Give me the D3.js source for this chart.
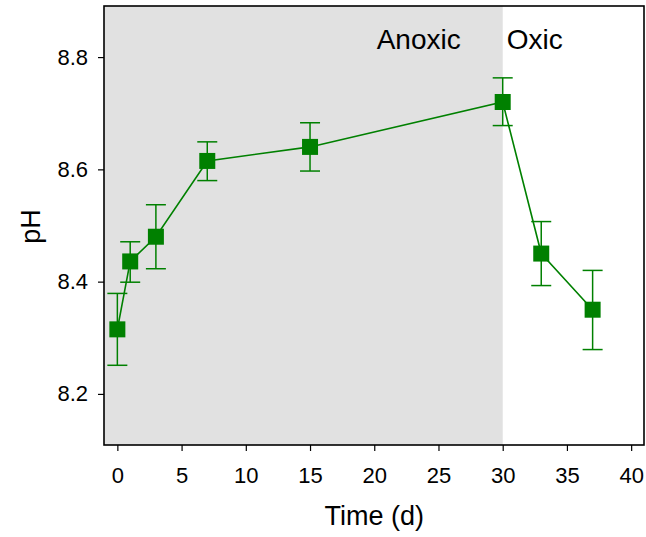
<!DOCTYPE html>
<html>
<head>
<meta charset="utf-8">
<script src="https://cdn.jsdelivr.net/npm/d3@7"></script>
<style>
  body { margin: 0; background: #fff; }
  svg { display: block; font-family: 'Liberation Sans', Arial, sans-serif; }
</style>
</head>
<body>
<div id="chart"></div>
<script>
// Data
const days = [0, 1, 3, 7, 15, 30, 33, 37];
const phMean = [8.315, 8.436, 8.48, 8.615, 8.64, 8.72, 8.45, 8.35];
const phLow = [8.251, 8.399, 8.423, 8.58, 8.597, 8.678, 8.393, 8.279];
const phHigh = [8.379, 8.471, 8.537, 8.649, 8.683, 8.763, 8.507, 8.42];
const xTicks = [0, 5, 10, 15, 20, 25, 30, 35, 40];
const yTicks = [8.2, 8.4, 8.6, 8.8];
const anoxicEnd = 30;

const W = 646, H = 537;
const m = { top: 6, right: 2, bottom: 92, left: 104 };
const w = W - m.left - m.right;
const h = H - m.top - m.bottom;
const green = '#008000';
const font = "'Liberation Sans', Arial, sans-serif";

const svg = d3.select('#chart').append('svg')
  .attr('width', W).attr('height', H);

const g = svg.append('g')
  .attr('transform', `translate(${m.left},${m.top})`);

const x = d3.scaleLinear().domain([-1.04, 41.0]).range([0, w]);
const y = d3.scaleLinear().domain([8.109, 8.891]).range([h, 0]);

// Anoxic shading
g.append('rect')
  .attr('x', 0).attr('y', 0)
  .attr('width', x(anoxicEnd)).attr('height', h)
  .attr('fill', '#e1e1e1');

// Axes
g.append('g')
  .attr('transform', `translate(0,${h})`)
  .call(d3.axisBottom(x).tickValues(xTicks).tickSize(6).tickPadding(16).tickFormat(d3.format('d')))
  .call(a => a.select('.domain').remove())
  .call(a => a.selectAll('.tick line').attr('stroke', '#000').attr('stroke-width', 1.2))
  .call(a => a.selectAll('.tick text').attr('font-size', '22px').attr('fill', '#000').attr('font-family', font));

g.append('g')
  .call(d3.axisLeft(y).tickValues(yTicks).tickSize(6).tickPadding(10).tickFormat(d3.format('.1f')))
  .call(a => a.select('.domain').remove())
  .call(a => a.selectAll('.tick line').attr('stroke', '#000').attr('stroke-width', 1.2))
  .call(a => a.selectAll('.tick text').attr('font-size', '22px').attr('fill', '#000').attr('font-family', font));

// Frame
g.append('rect')
  .attr('width', w).attr('height', h)
  .attr('fill', 'none').attr('stroke', '#000').attr('stroke-width', 1.6);

// Region labels
g.append('text')
  .attr('x', x(anoxicEnd) - 42).attr('y', y(8.8) - 8.5)
  .attr('text-anchor', 'end')
  .attr('font-size', '28px')
  .text('Anoxic');
g.append('text')
  .attr('x', x(anoxicEnd) + 4).attr('y', y(8.8) - 8.5)
  .attr('font-size', '28px')
  .text('Oxic');

// Error bars
const pts = days.map((d, i) => ({ t: d, v: phMean[i], lo: phLow[i], hi: phHigh[i] }));
const eb = g.append('g').attr('stroke', green).attr('stroke-width', 1.5);
pts.forEach(p => {
  eb.append('line').attr('x1', x(p.t)).attr('x2', x(p.t)).attr('y1', y(p.lo)).attr('y2', y(p.hi));
  eb.append('line').attr('x1', x(p.t) - 10).attr('x2', x(p.t) + 10).attr('y1', y(p.lo)).attr('y2', y(p.lo));
  eb.append('line').attr('x1', x(p.t) - 10).attr('x2', x(p.t) + 10).attr('y1', y(p.hi)).attr('y2', y(p.hi));
});

// Line
g.append('path')
  .datum(pts)
  .attr('d', d3.line().x(d => x(d.t)).y(d => y(d.v)))
  .attr('fill', 'none')
  .attr('stroke', green)
  .attr('stroke-width', 1.6);

// Square markers
const s = 16;
g.selectAll('rect.mk')
  .data(pts)
  .join('rect')
  .attr('class', 'mk')
  .attr('x', d => x(d.t) - s / 2)
  .attr('y', d => y(d.v) - s / 2)
  .attr('width', s).attr('height', s)
  .attr('fill', green);

// Axis titles
svg.append('text')
  .attr('x', m.left + x(20)).attr('y', 525)
  .attr('text-anchor', 'middle')
  .attr('font-size', '27px')
  .text('Time (d)');

svg.append('text')
  .attr('transform', `translate(40,${m.top + y(8.5) + 1}) rotate(-90)`)
  .attr('text-anchor', 'middle')
  .attr('font-size', '27px')
  .text('pH');
</script>
</body>
</html>
